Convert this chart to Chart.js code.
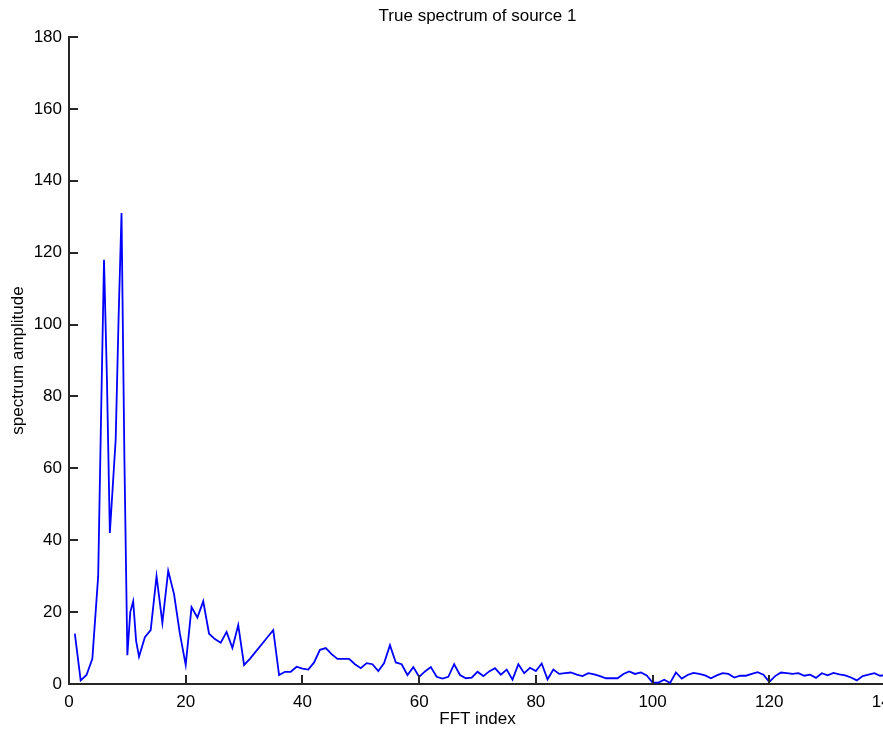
<!DOCTYPE html>
<html>
<head>
<meta charset="utf-8">
<script src="https://cdn.jsdelivr.net/npm/chart.js@4/dist/chart.umd.min.js"></script>
<style>
  html, body { margin: 0; padding: 0; background: #fff; }
  #wrap { width: 883px; height: 731px; overflow: hidden; position: relative; }
  canvas { display: block; }
</style>
</head>
<body>
<div id="wrap"><canvas id="c" width="957" height="731"></canvas></div>
<script>
// ---- data ----
const fftIndex = [
  1,2,3,4,5,5.5,6,6.5,7,7.5,8,8.5,9,9.5,10,10.5,11,11.5,12,13,14,15,16,17,18,19,20,
  21,22,23,24,25,26,27,28,29,30,31,32,33,34,35,36,37,38,39,40,
  41,42,43,44,45,46,47,48,49,50,51,52,53,54,55,56,57,58,59,60,
  61,62,63,64,65,66,67,68,69,70,71,72,73,74,75,76,77,78,79,80,
  81,82,83,84,85,86,87,88,89,90,91,92,93,94,95,96,97,98,99,100,
  101,102,103,104,105,106,107,108,109,110,111,112,113,114,115,116,117,118,119,120,
  121,122,123,124,125,126,127,128,129,130,131,132,133,134,135,136,137,138,139,140
];
const amplitude = [
  14,1,2.5,7,30,75,118,85,42,55,68,102,131,62,8,20,23,12,7.6,13,15,30,17,31.5,25,14,5.3,
  21.4,18.5,23,14,12.5,11.5,14.5,10,16.4,5.3,7,9,11,13,15,2.5,3.4,3.4,4.8,4.3,
  4,6,9.5,10,8.3,7,7,7,5.5,4.4,5.8,5.5,3.6,5.8,10.8,6,5.5,2.5,4.7,2,
  3.5,4.7,2,1.5,2,5.5,2.5,1.6,1.8,3.4,2.2,3.5,4.4,2.6,4,1.2,5.5,3,4.5,3.6,
  5.7,1.3,4,2.8,3,3.2,2.6,2.2,3,2.7,2.2,1.6,1.6,1.6,2.8,3.5,2.8,3.2,2.4,0.4,
  0.4,1.2,0.3,3.2,1.5,2.5,3.1,2.8,2.4,1.6,2.4,3,2.8,1.8,2.3,2.3,2.8,3.3,2.6,0.6,
  2.2,3.2,3,2.8,3,2.3,2.6,1.7,3,2.4,3.1,2.7,2.4,1.8,1,2.2,2.6,3,2.3,2.5
];
const xTicks = [0, 20, 40, 60, 80, 100, 120, 140];
const yTicks = [0, 20, 40, 60, 80, 100, 120, 140, 160, 180];
const titleText = 'True spectrum of source 1';
const xLabel = 'FFT index';
const yLabel = 'spectrum amplitude';

const points = fftIndex.map((x, i) => ({ x: x, y: amplitude[i] }));
const FONT = "'Liberation Sans', Arial, Helvetica, sans-serif";
const AXIS_COLOR = '#262626';

// inward tick marks (MATLAB style) and title centred over the axes
const matlabDecor = {
  id: 'matlabDecor',
  afterDatasetsDraw(chart) {
    const { ctx, scales: { x, y } } = chart;
    ctx.save();
    ctx.strokeStyle = AXIS_COLOR;
    ctx.lineWidth = 2;
    const len = 9;
    xTicks.forEach(v => {
      const px = Math.round(x.getPixelForValue(v));
      ctx.beginPath();
      ctx.moveTo(px, y.bottom);
      ctx.lineTo(px, y.bottom - len);
      ctx.stroke();
    });
    yTicks.forEach(v => {
      const py = Math.round(y.getPixelForValue(v));
      ctx.beginPath();
      ctx.moveTo(x.left, py);
      ctx.lineTo(x.left + len, py);
      ctx.stroke();
    });
    ctx.fillStyle = '#000';
    ctx.font = '17px ' + FONT;
    ctx.textAlign = 'center';
    ctx.textBaseline = 'middle';
    ctx.fillText(titleText, (x.left + x.right) / 2, 16);
    ctx.restore();
  }
};

new Chart(document.getElementById('c'), {
  type: 'line',
  data: {
    datasets: [{
      data: points,
      borderColor: '#0000ff',
      borderWidth: 1.8,
      pointRadius: 0,
      tension: 0,
      fill: false
    }]
  },
  options: {
    responsive: false,
    animation: false,
    layout: { padding: { left: 0, right: 71, top: 37, bottom: 0 } },
    plugins: {
      legend: { display: false },
      tooltip: { enabled: false },
      title: { display: false }
    },
    scales: {
      x: {
        type: 'linear',
        min: 0, max: 140,
        afterFit(s) { s.height = 47; },
        afterBuildTicks(s) { s.ticks = xTicks.map(v => ({ value: v })); },
        grid: { display: false, drawTicks: false },
        border: { display: true, color: AXIS_COLOR, width: 2 },
        ticks: {
          color: '#000',
          font: { family: FONT, size: 17 },
          padding: 8,
          maxRotation: 0,
          autoSkip: false
        },
        title: {
          display: true,
          text: xLabel,
          color: '#000',
          font: { family: FONT, size: 17 },
          padding: { top: 0, bottom: 1 }
        }
      },
      y: {
        type: 'linear',
        min: 0, max: 180,
        afterFit(s) { s.width = 69; },
        afterBuildTicks(s) { s.ticks = yTicks.map(v => ({ value: v })); },
        grid: { display: false, drawTicks: false },
        border: { display: true, color: AXIS_COLOR, width: 2 },
        ticks: {
          color: '#000',
          font: { family: FONT, size: 17 },
          padding: 7,
          autoSkip: false
        },
        title: {
          display: true,
          text: yLabel,
          color: '#000',
          font: { family: FONT, size: 17 },
          padding: { top: 8, bottom: 0 }
        }
      }
    }
  },
  plugins: [matlabDecor]
});
</script>
</body>
</html>
